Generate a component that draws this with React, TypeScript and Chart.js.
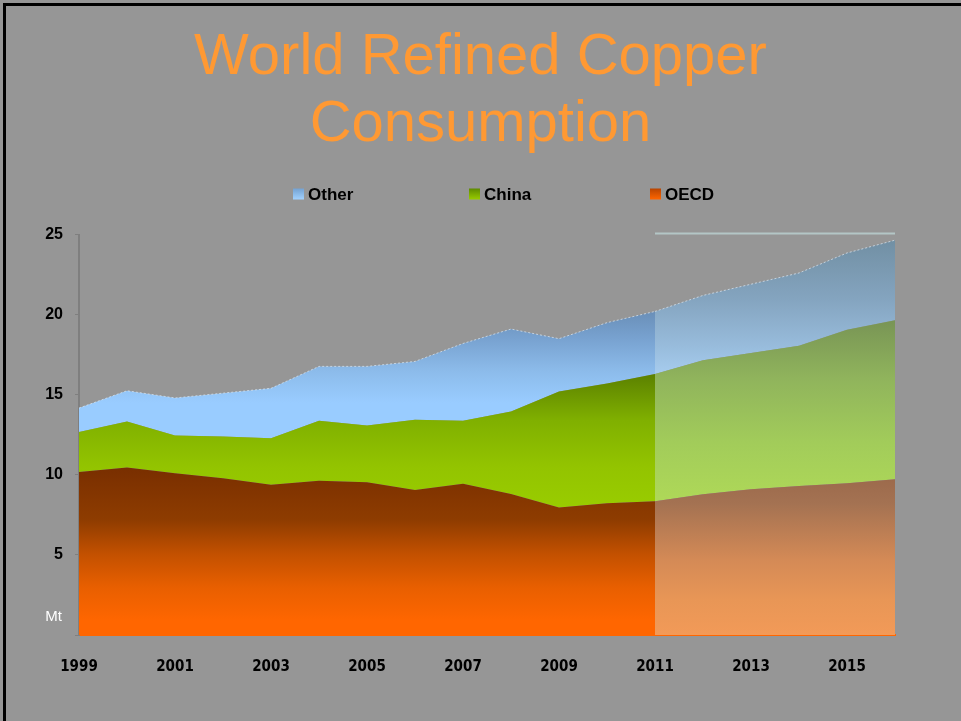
import React, { useEffect, useRef } from 'react';
import { Chart, registerables } from 'chart.js';

Chart.register(...registerables);

// ---------- data ----------
const years = ['1999', '2000', '2001', '2002', '2003', '2004', '2005', '2006', '2007', '2008',
  '2009', '2010', '2011', '2012', '2013', '2014', '2015', '2016'];
// Mt, stacked components
const oecd = [10.17, 10.46, 10.1, 9.79, 9.38, 9.63, 9.54, 9.06, 9.44, 8.8, 7.96, 8.23, 8.35, 8.79, 9.1, 9.31, 9.48, 9.73];
const china = [2.5, 2.87, 2.36, 2.61, 2.91, 3.74, 3.54, 4.38, 3.93, 5.16, 7.24, 7.47, 7.94, 8.36, 8.5, 8.75, 9.58, 9.92];
const other = [1.5, 1.92, 2.34, 2.7, 3.11, 3.4, 3.69, 3.64, 4.83, 5.14, 3.3, 3.8, 3.91, 4.05, 4.3, 4.54, 4.79, 5.0];
const forecastFrom = '2011';
const yTicks = [0, 5, 10, 15, 20, 25];
const titleLines = ['World Refined Copper', 'Consumption'];
const legendNames = ['Other', 'China', 'OECD'];
const unitLabel = 'Mt';

type Stop = [number, string];

const STYLE: Record<string, { actual: Stop[]; forecast: Stop[]; legend: [string, string] }> = {
  OECD: {
    actual: [[10.6, '#782e00'], [7.2, '#8e3c00'], [5.1, '#c25000'], [3, '#e85f00'], [0.9, '#ff6600'], [0, '#ff6600']],
    forecast: [[9.8, '#9c6a4c'], [8.2, '#a47252'], [4.7, '#d48a56'], [2.2, '#e89656'], [0, '#f29a58']],
    legend: ['#b84400', '#ff6600'],
  },
  China: {
    actual: [[16.4, '#5a7f00'], [13.4, '#80b000'], [10.5, '#93c400'], [8, '#99cc00']],
    forecast: [[19.7, '#789455'], [16, '#90b45c'], [12, '#a2cc5a'], [8.5, '#aed858']],
    legend: ['#5e8a00', '#99cc00'],
  },
  Other: {
    actual: [[20.2, '#6a8fb8'], [18.5, '#78a2d0'], [16.5, '#8cbbea'], [14.5, '#99ccff'], [12, '#99ccff']],
    forecast: [[24.7, '#718fa3'], [21, '#84a4bf'], [18, '#98bcdc'], [16.3, '#a6ccee']],
    legend: ['#74a2d2', '#a2d2ff'],
  },
};

const FONT = '"Liberation Sans", Arial, sans-serif';

function gradient(chart: any, stops: Stop[]) {
  const { ctx, chartArea, scales } = chart;
  if (!chartArea || !scales || !scales.y) return stops[stops.length - 1][1];
  const y = scales.y;
  const top = y.getPixelForValue(stops[0][0]);
  const bot = y.getPixelForValue(stops[stops.length - 1][0]);
  const g = ctx.createLinearGradient(0, top, 0, bot);
  stops.forEach(([v, c]) => {
    const t = Math.min(1, Math.max(0, (y.getPixelForValue(v) - top) / (bot - top)));
    g.addColorStop(t, c);
  });
  return g;
}

const fIdx = years.indexOf(forecastFrom);
const actualPart = (arr: number[]) => arr.map((v, i) => (i <= fIdx ? v : null));
const forecastPart = (arr: number[]) => arr.map((v, i) => (i >= fIdx ? v : null));

const decorPlugin = {
  id: 'decor',
  afterDatasetsDraw(chart: any) {
    const { ctx, chartArea, scales } = chart;
    const x = scales.x;
    const y = scales.y;
    ctx.save();
    // light line over forecast period
    const x0 = x.getPixelForValue(fIdx);
    const x1 = x.getPixelForValue(years.length - 1);
    const yt = y.getPixelForValue(y.max) - 1;
    ctx.strokeStyle = '#b3c6c6';
    ctx.lineWidth = 2;
    ctx.beginPath();
    ctx.moveTo(x0, yt);
    ctx.lineTo(x1, yt);
    ctx.stroke();
    // unit label
    ctx.fillStyle = '#ffffff';
    ctx.font = '15px ' + FONT;
    ctx.textAlign = 'right';
    ctx.textBaseline = 'alphabetic';
    ctx.fillText(unitLabel, chartArea.left - 17, y.getPixelForValue(0) - 14);
    ctx.restore();
  },
  afterDraw(chart: any) {
    const { ctx } = chart;
    const boxX = [293, 469, 650];
    const cy = 194;
    ctx.save();
    legendNames.forEach((name, i) => {
      const [c0, c1] = STYLE[name].legend;
      const g = ctx.createLinearGradient(0, cy - 5.5, 0, cy + 5.5);
      g.addColorStop(0, c0);
      g.addColorStop(1, c1);
      ctx.fillStyle = g;
      ctx.fillRect(boxX[i], cy - 5.5, 11, 11);
      ctx.fillStyle = '#000000';
      ctx.font = 'bold 17px ' + FONT;
      ctx.textAlign = 'left';
      ctx.textBaseline = 'middle';
      ctx.fillText(name, boxX[i] + 15, cy + 1);
    });
    ctx.restore();
  },
};

function makeDataset(name: string, data: (number | null)[], part: 'actual' | 'forecast', fill: any, stack: string) {
  const isOther = name === 'Other';
  return {
    label: name,
    data,
    stack,
    fill,
    backgroundColor: (c: any) => gradient(c.chart, STYLE[name][part]),
    borderColor: isOther ? 'rgba(215,228,240,0.75)' : 'rgba(0,0,0,0)',
    borderWidth: isOther ? 1 : 0,
    borderDash: isOther ? [2, 2] : [],
    pointRadius: 0,
    pointHoverRadius: 0,
    tension: 0,
    spanGaps: false,
  };
}

export default function App() {
  const canvasRef = useRef<HTMLCanvasElement | null>(null);

  useEffect(() => {
    document.body.style.margin = '0';
    document.body.style.background = '#969696';
    const canvas = canvasRef.current;
    if (!canvas) return;
    const chart = new Chart(canvas, {
      type: 'line',
      data: {
        labels: years,
        datasets: [
          makeDataset('OECD', actualPart(oecd), 'actual', 'origin', 'actual'),
          makeDataset('China', actualPart(china), 'actual', '-1', 'actual'),
          makeDataset('Other', actualPart(other), 'actual', '-1', 'actual'),
          makeDataset('OECD', forecastPart(oecd), 'forecast', 'origin', 'forecast'),
          makeDataset('China', forecastPart(china), 'forecast', '-1', 'forecast'),
          makeDataset('Other', forecastPart(other), 'forecast', '-1', 'forecast'),
        ] as any,
      },
      options: {
        animation: false,
        responsive: true,
        maintainAspectRatio: false,
        devicePixelRatio: 1,
        layout: { padding: { left: 0, right: 0, top: 0, bottom: 22 } },
        plugins: {
          legend: { display: false },
          tooltip: { enabled: false },
          title: {
            display: true,
            text: titleLines,
            color: '#ff9933',
            font: { family: FONT, size: 58, weight: 'normal', lineHeight: 1.16 },
            padding: { top: 24, bottom: 76 },
          },
        },
        scales: {
          x: {
            type: 'category',
            grid: { display: false, drawTicks: false },
            border: { display: true, color: '#ff6600', width: 2 },
            ticks: {
              autoSkip: false,
              maxRotation: 0,
              padding: 23,
              color: '#000000',
              font: { family: '"Liberation Sans Narrow", "DejaVu Sans Condensed", ' + FONT, size: 15, weight: 'bold' },
              callback: (_v: any, i: number) => (i % 2 === 0 ? years[i] : ''),
            },
          },
          y: {
            stacked: true,
            min: yTicks[0],
            max: yTicks[yTicks.length - 1],
            afterFit: (s: any) => { s.width = 79; },
            afterBuildTicks: (s: any) => { s.ticks = yTicks.map((v) => ({ value: v })); },
            grid: { display: true, drawOnChartArea: false, drawTicks: true, tickLength: 4, color: '#7f7f7f' },
            border: { display: true, color: '#7f7f7f', width: 2 },
            ticks: {
              padding: 12,
              color: '#000000',
              font: { family: FONT, size: 16, weight: 'bold' },
              callback: (v: any) => (v === 0 ? '' : String(v)),
            },
          },
          y2: {
            position: 'right',
            display: true,
            afterFit: (s: any) => { s.width = 66; },
            grid: { display: false },
            border: { display: false },
            ticks: { display: false },
          },
        },
      } as any,
      plugins: [decorPlugin],
    });
    return () => chart.destroy();
  }, []);

  return (
    <div style={{ position: 'relative', width: 961, height: 721, background: '#969696', overflow: 'hidden' }}>
      <div
        style={{
          position: 'absolute', left: 3, top: 3, right: 0, bottom: 0,
          borderLeft: '3px solid #000', borderTop: '3px solid #000', pointerEvents: 'none', zIndex: 2,
        }}
      />
      <canvas ref={canvasRef} />
    </div>
  );
}
